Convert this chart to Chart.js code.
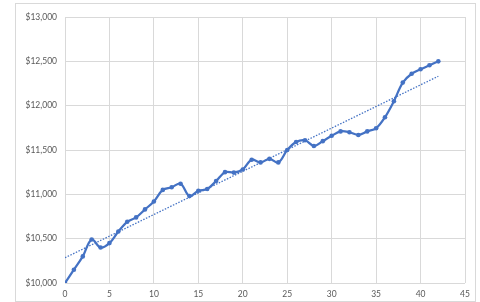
<!DOCTYPE html>
<html>
<head>
<meta charset="utf-8">
<script src="https://cdn.jsdelivr.net/npm/chart.js@4"></script>
<style>
    html, body { margin: 0; padding: 0; background: #fff; }
    #frame { position: absolute; left: 15px; top: 3px; width: 459px; height: 297px; border: 1px solid #d9d9d9; }
    #wrap { position: absolute; left: 0; top: 0; width: 480px; height: 302px; }
</style>
</head>
<body>
<div id="frame"></div>
<div id="wrap"><canvas id="chart" width="480" height="302"></canvas></div>
<script>
    // Values
    const periods = [0, 1, 2, 3, 4, 5, 6, 7, 8, 9, 10, 11, 12, 13, 14, 15, 16, 17, 18, 19, 20,
        21, 22, 23, 24, 25, 26, 27, 28, 29, 30, 31, 32, 33, 34, 35, 36, 37, 38, 39, 40, 41, 42];
    const balance = [10000, 10150, 10300, 10490, 10400, 10450, 10580, 10690, 10740, 10830,
        10920, 11050, 11080, 11120, 10980, 11040, 11060, 11150, 11250, 11245,
        11280, 11390, 11360, 11400, 11360, 11500, 11590, 11610, 11545, 11600,
        11660, 11710, 11700, 11670, 11710, 11745, 11870, 12050, 12260, 12360,
        12410, 12455, 12500];
    const xTicks = [0, 5, 10, 15, 20, 25, 30, 35, 40, 45];
    const yTicks = [10000, 10500, 11000, 11500, 12000, 12500, 13000];

    const blue = "#4472C4";

    // Linear trendline (least squares), like the spreadsheet does
    const n = periods.length;
    const mx = periods.reduce((a, b) => a + b, 0) / n;
    const my = balance.reduce((a, b) => a + b, 0) / n;
    let sxy = 0, sxx = 0;
    periods.forEach((x, i) => {
        sxy += (x - mx) * (balance[i] - my);
        sxx += (x - mx) * (x - mx);
    });
    const slope = sxy / sxx;
    const icept = my - slope * mx;
    const xFirst = periods[0], xLast = periods[n - 1];

    const tickFont = { family: "Lato, 'Open Sans', sans-serif", size: 8.5 };

    new Chart(document.getElementById("chart"), {
        type: "line",
        data: {
            datasets: [{
                label: "Balance",
                data: periods.map((x, i) => ({ x: x, y: balance[i] })),
                borderColor: blue,
                backgroundColor: blue,
                borderWidth: 2.25,
                pointRadius: 2.3,
                pointBorderWidth: 0,
                tension: 0.35,
                order: 1
            },
            {
                label: "Trend",
                data: [{ x: xFirst, y: icept + slope * xFirst }, { x: xLast, y: icept + slope * xLast }],
                borderColor: blue,
                borderWidth: 1.3,
                borderDash: [1.5, 1.5],
                pointRadius: 0,
                order: 2
            }]
        },
        options: {
            responsive: false,
            animation: false,
            layout: { padding: { left: 0, right: 15, top: 17, bottom: 0 } },
            plugins: { legend: { display: false }, tooltip: { enabled: false } },
            scales: {
                x: {
                    type: "linear",
                    min: 0,
                    max: 45,
                    afterBuildTicks: function (scale) {
                        scale.ticks = xTicks.map(v => ({ value: v }));
                    },
                    afterFit: function (scale) { scale.height = 19; },
                    grid: { color: "#d9d9d9", lineWidth: 1, drawTicks: false },
                    border: { display: false },
                    ticks: { color: "#595959", font: tickFont, padding: 6, maxRotation: 0 }
                },
                y: {
                    type: "linear",
                    min: 10000,
                    max: 13000,
                    afterBuildTicks: function (scale) {
                        scale.ticks = yTicks.map(v => ({ value: v }));
                    },
                    afterFit: function (scale) { scale.width = 65; },
                    grid: { color: "#d9d9d9", lineWidth: 1, drawTicks: false },
                    border: { display: false },
                    ticks: {
                        color: "#595959",
                        font: tickFont,
                        padding: 8,
                        callback: v => "$" + v.toLocaleString("en-US")
                    }
                }
            }
        }
    });
</script>
</body>
</html>
